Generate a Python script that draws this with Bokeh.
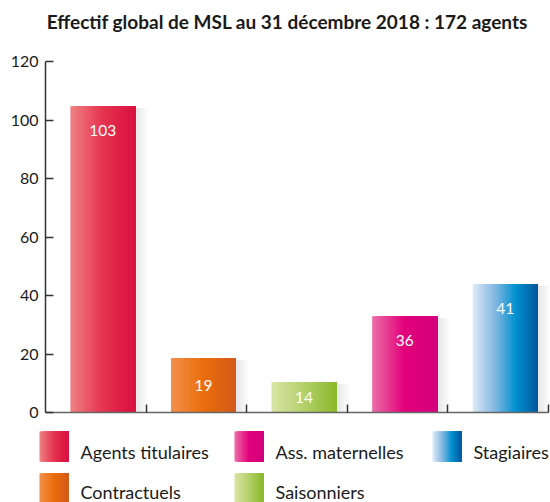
from bokeh.plotting import figure
from bokeh.layouts import column
from bokeh.models import Range1d, FixedTicker, CustomJSTickFormatter
from bokeh.core.properties import value
from bokeh.embed import file_html
from bokeh.resources import INLINE

# ---------------- data ----------------
title_text = "Effectif global de MSL au 31 décembre 2018 : 172 agents"
categories = ["Agents titulaires", "Contractuels", "Saisonniers", "Ass. maternelles", "Stagiaires"]
bar_heights = [104.7, 18.6, 10.3, 32.9, 43.9]
bar_labels = ["103", "19", "14", "36", "41"]
y_ticks = [0, 20, 40, 60, 80, 100, 120]
legend_order = [["Agents titulaires", "Ass. maternelles", "Stagiaires"],
                ["Contractuels", "Saisonniers"]]

# ---------------- styles ----------------
FONT = "Lato"
gradients = {
    "Agents titulaires": ["#EF8283", "#E5334F", "#D90F3F"],
    "Contractuels": ["#F1914A", "#EB6D0C", "#D35A18"],
    "Saisonniers": ["#D9E5A6", "#B3D06A", "#8AB92A"],
    "Ass. maternelles": ["#EC6FA8", "#E2007A", "#D3007D"],
    "Stagiaires": ["#DDEAF7", "#86B9E2", "#0090D0", "#00569A"],
}


def hex2rgb(h):
    h = h.lstrip("#")
    return [int(h[i:i + 2], 16) for i in (0, 2, 4)]


def interp(stops, t):
    n = len(stops) - 1
    pos = t * n
    i = min(int(pos), n - 1)
    f = pos - i
    a, b = hex2rgb(stops[i]), hex2rgb(stops[i + 1])
    c = [round(a[k] + (b[k] - a[k]) * f) for k in range(3)]
    return "#%02x%02x%02x" % tuple(c)


def no_align(fig):
    if "frame_align" in fig.properties():
        fig.frame_align = False


NSTRIP = 30
W = 550
TITLE_H = 45
MAIN_H = 375
LEG_H = 502 - TITLE_H - MAIN_H
BL, BR = 45, 2

# ---------------- title figure ----------------
pt = figure(width=W, height=TITLE_H, x_range=Range1d(0, W), y_range=Range1d(TITLE_H, 0),
            output_backend="svg", toolbar_location=None, x_axis_type=None, y_axis_type=None,
            min_border=0)
no_align(pt)
pt.grid.visible = False
pt.outline_line_color = None
pt.text(x=[287], y=[21], text=[title_text], text_font=value(FONT), text_font_style="bold",
        text_font_size="19px", text_align="center", text_baseline="middle", text_color="#1a1a1a")

# ---------------- main figure ----------------
p = figure(width=W, height=MAIN_H, x_range=Range1d(0, len(categories)), y_range=Range1d(0, 120),
           output_backend="svg", toolbar_location=None,
           min_border_left=BL, min_border_right=BR, min_border_top=16, min_border_bottom=8)
no_align(p)
p.grid.visible = False
p.outline_line_color = None

bw = 0.646
centers = [i + 0.57 for i in range(len(categories))]
px = len(categories) / (W - BL - BR)  # data units per pixel

# soft shadows on the right of the bars
for c, h in zip(centers, bar_heights):
    r0 = c + bw / 2
    for k in range(8):
        p.quad(left=[r0], right=[r0 + (k + 1) * 1.6 * px], bottom=[0], top=[h - 0.5],
               fill_color="#000000", fill_alpha=0.010, line_color=None)

# gradient bars (overlapping strips, painted left to right)
for cat, c, h in zip(categories, centers, bar_heights):
    x0 = c - bw / 2
    x1 = c + bw / 2
    lefts = [x0 + k * bw / NSTRIP for k in range(NSTRIP)]
    rights = [x1] * NSTRIP
    cols = [interp(gradients[cat], (k + 0.5) / NSTRIP) for k in range(NSTRIP)]
    p.quad(left=lefts, right=rights, bottom=[0] * NSTRIP, top=[h] * NSTRIP,
           fill_color=cols, line_color=None)

label_y = [h if h >= 25 else h / 2 for h in bar_heights]
label_off = [24 if h >= 25 else 0 for h in bar_heights]
p.text(x=centers, y=label_y, y_offset=label_off, text=bar_labels, text_font=value(FONT),
       text_font_size="15.5px", text_align="center", text_baseline="middle", text_color="white")

p.yaxis.ticker = FixedTicker(ticks=y_ticks)
p.yaxis.major_tick_in = 8
p.yaxis.major_tick_out = 0
p.yaxis.minor_tick_line_color = None
p.yaxis.major_label_standoff = 7
p.yaxis.major_label_text_font = FONT
p.yaxis.major_label_text_font_size = "16px"
p.yaxis.major_label_text_color = "#1a1a1a"
p.yaxis.axis_line_color = "#333333"
p.yaxis.axis_line_width = 1.5
p.yaxis.major_tick_line_color = "#333333"
p.yaxis.major_tick_line_width = 1.5

p.xaxis.ticker = FixedTicker(ticks=list(range(1, len(categories) + 1)))
p.xaxis.formatter = CustomJSTickFormatter(code="return ''")
p.xaxis.major_tick_in = 8
p.xaxis.major_tick_out = 0
p.xaxis.minor_tick_line_color = None
p.xaxis.major_label_text_font_size = "1px"
p.xaxis.major_label_standoff = 0
p.xaxis.axis_line_color = "#666666"
p.xaxis.axis_line_width = 1.5
p.xaxis.major_tick_line_color = "#333333"
p.xaxis.major_tick_line_width = 1.5

# ---------------- legend figure ----------------
pl = figure(width=W, height=LEG_H, x_range=Range1d(0, W), y_range=Range1d(LEG_H, 0),
            output_backend="svg", toolbar_location=None, x_axis_type=None, y_axis_type=None,
            min_border=0)
no_align(pl)
pl.grid.visible = False
pl.outline_line_color = None

col_x = [39, 234, 432]
row_y = [11, 53]
text_y = [31, 71]
SQ_W, SQ_H = 29, 30
for r, row in enumerate(legend_order):
    for ci, cat in enumerate(row):
        x0 = col_x[ci]
        y0 = row_y[r]
        lefts = [x0 + k * SQ_W / NSTRIP for k in range(NSTRIP)]
        rights = [x0 + SQ_W] * NSTRIP
        cols = [interp(gradients[cat], (k + 0.5) / NSTRIP) for k in range(NSTRIP)]
        pl.quad(left=lefts, right=rights, top=[y0] * NSTRIP, bottom=[y0 + SQ_H] * NSTRIP,
                fill_color=cols, line_color=None)
        pl.text(x=[x0 + 41], y=[text_y[r]], text=[cat], text_font=value(FONT), text_font_size="18px",
                text_align="left", text_baseline="middle", text_color="#1a1a1a")

layout = column(pt, p, pl, spacing=0)
open("out.html", "w").write(file_html(layout, INLINE))
